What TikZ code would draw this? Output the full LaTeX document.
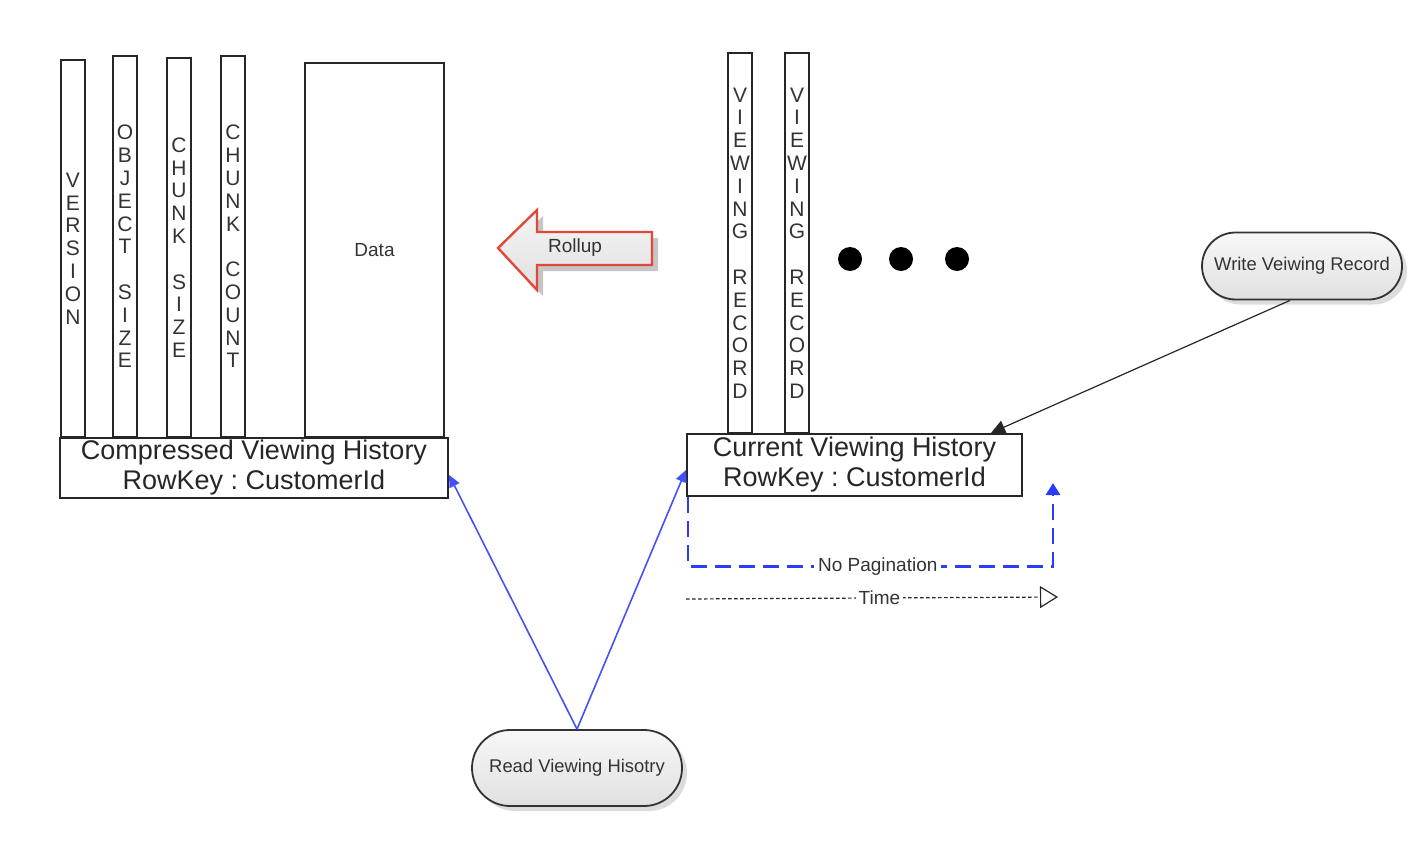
\documentclass[tikz,border=0pt]{standalone}
\usepackage{fontspec}
\setmainfont{Liberation Sans}
\usetikzlibrary{arrows.meta,shapes.misc,shadows}
\definecolor{rollred}{RGB}{226,72,58}
\definecolor{pagblue}{RGB}{40,60,250}
\definecolor{readblue}{RGB}{70,80,250}
\begin{document}
\begin{tikzpicture}[
      x=0.5pt, y=-0.5pt,
      >={Triangle[length=6pt,width=5.5pt]},
      col/.style={draw=black!85, line width=1pt, minimum width=12pt, inner sep=0pt,
        align=center, anchor=south, text=black!80,
        font=\fontsize{10.5}{11.4}\selectfont},
      rowbox/.style={draw=black!85, line width=1.1pt, inner sep=0pt, align=center,
        text=black!85, font=\fontsize{13.5}{15}\selectfont},
      pill/.style={rounded rectangle, draw=black!80, line width=0.9pt,
        top color=gray!6, bottom color=gray!24,
        drop shadow={shadow xshift=2.5pt, shadow yshift=-2.5pt, fill=gray!55},
        inner sep=0pt, text=black!80, font=\fontsize{9.2}{11}\selectfont},
      lbl/.style={text=black!80, font=\fontsize{9.5}{11}\selectfont},
      dot/.style={circle, fill=black, minimum size=12pt, inner sep=0pt},
      readarr/.style={->, draw=readblue, line width=0.8pt},
    ]
      \useasboundingbox (0,0) rectangle (1428,856);

      % compressed row
      \node[col, minimum height=188.5pt] (version) at (73,438) {V\\E\\R\\S\\I\\O\\N};
      \node[col, minimum height=190.5pt] (objsize) at (125,438) {O\\B\\J\\E\\C\\T\\~\\S\\I\\Z\\E};
      \node[col, minimum height=189.5pt] (chunksize) at (179,438) {C\\H\\U\\N\\K\\~\\S\\I\\Z\\E};
      \node[col, minimum height=190.5pt] (chunkcount) at (233,438) {C\\H\\U\\N\\K\\~\\C\\O\\U\\N\\T};
      \node[col, lbl, minimum width=69.5pt, minimum height=187pt] (data) at (374.5,438) {Data};
      \node[rowbox, minimum width=194pt, minimum height=30pt] (compressed) at (254,468)
        {Compressed Viewing History\\RowKey :\ CustomerId};

      % current row
      \node[col, minimum height=190pt] (recA) at (740,434) {V\\I\\E\\W\\I\\N\\G\\~\\R\\E\\C\\O\\R\\D};
      \node[col, minimum height=190pt] (recB) at (797,434) {V\\I\\E\\W\\I\\N\\G\\~\\R\\E\\C\\O\\R\\D};
      \node[dot] (dotA) at (850,259) {};
      \node[dot] (dotB) at (901,259) {};
      \node[dot] (dotC) at (957,259) {};
      \node[rowbox, minimum width=167.5pt, minimum height=31pt] (current) at (854.5,465)
        {Current Viewing History\\RowKey :\ CustomerId};

      % rollup arrow
      \begin{scope}[shift={(6,6)}]
        \fill[gray!45] (498,248) -- (537,210) -- (537,232) -- (652,232) -- (652,265)
          -- (537,265) -- (537,290) -- cycle;
      \end{scope}
      \draw[draw=rollred, line width=1.2pt, top color=gray!8, bottom color=gray!24]
        (498,248) -- (537,210) -- (537,232) -- (652,232) -- (652,265)
        -- (537,265) -- (537,290) -- cycle;
      \node[lbl] (rollup) at (575,248) {Rollup};

      % clients
      \node[pill, minimum width=100pt, minimum height=33.5pt] (write) at (1302,266) {Write Veiwing Record};
      \node[pill, minimum width=105pt, minimum height=38pt] (read) at (577,768) {Read Viewing Hisotry};

      \draw[-{Triangle[length=7pt,width=7pt]}, draw=black!85, line width=0.6pt]
        ([xshift=-6pt]write.south) -- ([xshift=-16pt]current.north east);
      \draw[readarr] (read.north) -- ([yshift=-3.5pt]compressed.east);
      \draw[readarr] (read.north) -- ([yshift=-2.5pt]current.west);

      % pagination and time
      \coordinate (pagEnd) at (1053,483);
      \draw[-{Triangle[length=6pt,width=7pt]}, draw=pagblue, line width=1.4pt, dash pattern=on 8pt off 4pt]
        ([xshift=1pt]current.south west) -- ++(0,69) -| node[lbl, pos=0.26, fill=white, inner sep=2pt] (nopage) {No Pagination} (pagEnd);
      \coordinate (timeA) at (686,599);
      \coordinate (timeB) at (1058,597);
      \draw[-{Triangle[open,length=9pt,width=11pt]}, draw=black!85, line width=0.6pt, dash pattern=on 1.8pt off 1.2pt]
        (timeA) -- node[lbl, pos=0.52, fill=white, inner sep=1.5pt] (time) {Time} (timeB);

    \end{tikzpicture}
\end{document}
